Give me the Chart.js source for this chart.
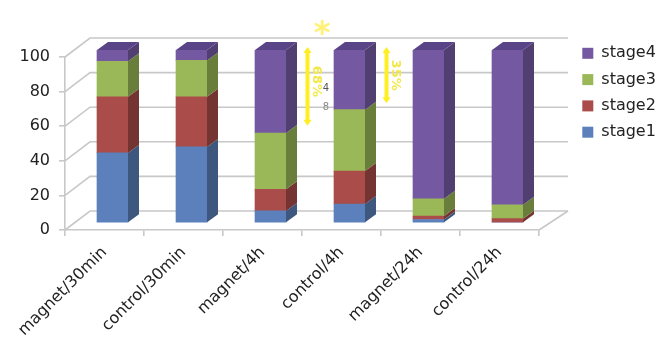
<!DOCTYPE html>
<html>
<head>
<meta charset="utf-8">
<style>
  html,body{margin:0;padding:0;background:#fff}
  #wrap{position:relative;width:670px;height:337px}
  canvas{filter:blur(.7px)}
</style>
<script src="https://cdn.jsdelivr.net/npm/chart.js@4"></script>
</head>
<body>
<div id="wrap"><canvas id="c" width="670" height="337"></canvas></div>
<script>
const categories = ['magnet/30min','control/30min','magnet/4h','control/4h','magnet/24h','control/24h'];
const stage1 = [40.5, 44, 7, 11, 2, 0];
const stage2 = [32.5, 29, 12.5, 19, 2, 2.5];
const stage3 = [20.5, 21, 32.5, 35.5, 10, 8];
const stage4 = [6.5, 6, 48, 34.5, 86, 89.5];
const yTicks = [0, 20, 40, 60, 80, 100];

// yellow arrows between the 4h bars
const arrowFrom = [62, 75];
const arrowTo = [104, 104];
const arrowLabels = ['68%', '35%'];

const front = {blue:'#5b80bc', red:'#a94c4a', green:'#9bb858', purple:'#7458a2'};
const side = {blue:'#3e577f', red:'#733432', green:'#6a7e3c', purple:'#513f72'};
const topFace = '#5a4488';
const wallLine = '#c8c8c8';
const textColor = '#222';
const FONT = '"DejaVu Sans"';

// box depth of the wall and of the bars (the bars stand in the middle of the floor)
const WALL_DX = 25, WALL_DY = -19;
const BAR_SHIFT_X = 8, BAR_SHIFT_Y = -7;
const BAR_DX = 11, BAR_DY = -8;

const wallPlugin = {
  id:'wall',
  beforeInit(chart){
    // reserve the floor's width on the right without moving the chart
    const fit = chart.legend.fit;
    chart.legend.fit = function(){
      fit.call(this);
      this.width = 131;
    };
  },
  afterLayout(chart){
    chart.legend.left = 572;
    chart.legend.right = 670;
    chart.legend.top = 35;
  },
  beforeDatasetsDraw(chart){
    const {ctx, chartArea:a, scales:{y}} = chart;
    ctx.save();
    ctx.strokeStyle = wallLine;
    ctx.lineWidth = 1.6;
    yTicks.forEach(t=>{
      const py = y.getPixelForValue(t);
      ctx.beginPath();
      ctx.moveTo(a.left, py);
      ctx.lineTo(a.left+WALL_DX, py+WALL_DY);
      ctx.lineTo(a.right+WALL_DX+4, py+WALL_DY);
      ctx.stroke();
    });
    const y0 = y.getPixelForValue(0);
    ctx.beginPath();
    ctx.moveTo(a.right, y0);
    ctx.lineTo(a.right+WALL_DX+4, y0+WALL_DY);
    ctx.stroke();
    ctx.restore();
    ctx.save();
    ctx.translate(BAR_SHIFT_X, BAR_SHIFT_Y);
  },
  afterDatasetsDraw(chart){
    const {ctx, scales:{y}} = chart;
    chart.data.datasets.forEach((ds, d)=>{
      const meta = chart.getDatasetMeta(d);
      meta.data.forEach((bar, i)=>{
        if(!ds.data[i]) return;
        const r = bar.x + bar.width/2, t = bar.y, b = bar.base;
        ctx.fillStyle = ds.sideColor;
        ctx.beginPath();
        ctx.moveTo(r, b);
        ctx.lineTo(r+BAR_DX, b+BAR_DY);
        ctx.lineTo(r+BAR_DX, t+BAR_DY);
        ctx.lineTo(r, t);
        ctx.closePath();
        ctx.fill();
        if(d === chart.data.datasets.length-1){
          const l = bar.x - bar.width/2;
          ctx.fillStyle = topFace;
          ctx.beginPath();
          ctx.moveTo(l, t);
          ctx.lineTo(l+BAR_DX, t+BAR_DY);
          ctx.lineTo(r+BAR_DX, t+BAR_DY);
          ctx.lineTo(r, t);
          ctx.closePath();
          ctx.fill();
        }
      });
    });
    ctx.restore();

    // yellow arrows, star and the stray digits
    const x = chart.scales.x;
    ctx.save();
    arrowLabels.forEach((label, i)=>{
      const px = x.getPixelForValue(2+i) + 45;
      const a = y.getPixelForValue(arrowFrom[i]), b = y.getPixelForValue(arrowTo[i]);
      ctx.strokeStyle = ctx.fillStyle = '#ffee22';
      ctx.lineWidth = 4;
      ctx.beginPath(); ctx.moveTo(px, a); ctx.lineTo(px, b); ctx.stroke();
      [[a,1],[b,-1]].forEach(([p,s])=>{
        ctx.beginPath();
        ctx.moveTo(px-4, p-s*3); ctx.lineTo(px, p+s*3); ctx.lineTo(px+4, p-s*3);
        ctx.closePath(); ctx.fill();
      });
      ctx.save();
      ctx.translate(px+9, (a+b)/2 - (i ? 0 : 5));
      ctx.rotate(Math.PI/2);
      ctx.font = 'bold 13px '+FONT;
      ctx.textAlign = 'center';
      ctx.textBaseline = 'middle';
      ctx.fillStyle = '#f2e84a';
      ctx.fillText(label, 0, 0);
      ctx.restore();
    });
    ctx.fillStyle = '#fff176';
    ctx.font = 'bold 32px '+FONT;
    ctx.textAlign = 'center';
    ctx.textBaseline = 'middle';
    ctx.fillText('*', 322, 35);
    ctx.font = '10px '+FONT;
    ctx.fillStyle = '#555';
    ctx.fillText('4', 326, 88);
    ctx.fillStyle = '#888';
    ctx.fillText('8', 326, 107);
    ctx.restore();
  }
};

new Chart(document.getElementById('c'), {
  type:'bar',
  data:{
    labels:categories,
    datasets:[
      {label:'stage1', data:stage1, backgroundColor:front.blue, sideColor:side.blue},
      {label:'stage2', data:stage2, backgroundColor:front.red, sideColor:side.red},
      {label:'stage3', data:stage3, backgroundColor:front.green, sideColor:side.green},
      {label:'stage4', data:stage4, backgroundColor:front.purple, sideColor:side.purple}
    ]
  },
  plugins:[wallPlugin],
  options:{
    responsive:false,
    animation:false,
    devicePixelRatio:1,
    barThickness:31,
    layout:{padding:{top:57, left:0, right:0, bottom:0}},
    scales:{
      x:{
        stacked:true,
        afterFit(s){ s.height = 107; },
        grid:{drawOnChartArea:false, color:wallLine, tickLength:6, lineWidth:1.6},
        border:{color:wallLine, width:1.6},
        ticks:{minRotation:45, maxRotation:45, padding:7, color:textColor, font:{family:FONT, size:16}}
      },
      y:{
        stacked:true,
        min:0, max:100,
        afterFit(s){ s.width = 65; },
        afterBuildTicks(s){ s.ticks = yTicks.map(v=>({value:v})); },
        grid:{drawOnChartArea:false, color:wallLine, tickLength:6, lineWidth:1.6},
        border:{color:wallLine, width:1.6},
        ticks:{padding:9, color:textColor, font:{family:FONT, size:16}}
      }
    },
    plugins:{
      tooltip:{enabled:false},
      legend:{
        position:'right',
        align:'start',
        reverse:true,
        labels:{boxWidth:11, boxHeight:11, padding:10.3, color:textColor, font:{family:FONT, size:16}}
      }
    }
  }
});
</script>
</body>
</html>
